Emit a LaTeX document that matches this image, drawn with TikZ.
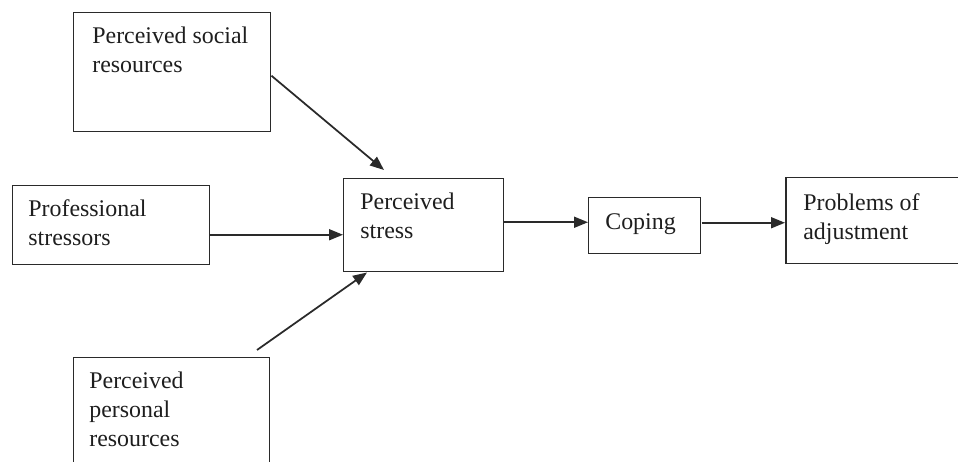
\documentclass[tikz,border=0pt]{standalone}
\usepackage{fontspec}
\setmainfont{Liberation Serif}
\usetikzlibrary{arrows.meta,positioning}
\definecolor{ink}{HTML}{1E1E1E}
\definecolor{line}{HTML}{2A2A2A}

\begin{document}
\begin{tikzpicture}[
  text=ink,
  box/.style={draw=line, line width=.85pt, anchor=north west, inner sep=0pt},
  txt/.style={anchor=north west, align=left, inner sep=0pt,
    font=\fontsize{13.6}{16.5}\selectfont},
  arrow/.style={-{Triangle[length=2.8mm, width=2.2mm]}, draw=line, line width=1pt}
]
  \useasboundingbox (0,0) rectangle (19.16,-9.24);
  % boxes
  \node[box, minimum width=3.94cm, minimum height=2.38cm] (social) at (1.46,-0.24) {};
  \node[box, minimum width=3.94cm, minimum height=1.58cm] (prof) at (0.24,-3.70) {};
  \node[box, minimum width=3.20cm, minimum height=1.86cm] (stress) at (6.86,-3.56) {};
  \node[box, minimum width=2.24cm, minimum height=1.12cm] (coping) at (11.76,-3.94) {};
  \node[box, minimum width=3.60cm, minimum height=1.72cm] (problems) at (15.70,-3.54) {};
  \node[box, minimum width=3.92cm, minimum height=2.60cm] (personal) at (1.46,-7.14) {};
  % texts
  \node[txt] (social-txt) at ([shift={(.38,-.30)}]social.north west) {Perceived social\\resources};
  \node[txt] (prof-txt) at ([shift={(.32,-.28)}]prof.north west) {Professional\\stressors};
  \node[txt] (stress-txt) at ([shift={(.34,-.30)}]stress.north west) {Perceived\\stress};
  \node[txt] (coping-txt) at ([shift={(.34,-.32)}]coping.north west) {Coping};
  \node[txt] (problems-txt) at ([shift={(.36,-.32)}]problems.north west) {Problems of\\adjustment};
  \node[txt] (personal-txt) at ([shift={(.32,-.30)}]personal.north west) {Perceived\\personal\\resources};
  % connectors
  \draw[arrow] ([yshift=-.07cm]social.east) -- ([shift={(.82,.16)}]stress.north west);
  \draw[arrow] ([yshift=-.19cm]prof.east) -- ([yshift=-.19cm]prof.east -| stress.west);
  \draw[arrow] ([yshift=.06cm]stress.east) -- ([yshift=.06cm]stress.east -| coping.west);
  \draw[arrow] ([yshift=.06cm]coping.east) -- ([yshift=.06cm]coping.east -| problems.west);
  \draw[arrow] ([shift={(3.68,.14)}]personal.north west) -- ([xshift=.48cm]stress.south west);
\end{tikzpicture}
\end{document}
